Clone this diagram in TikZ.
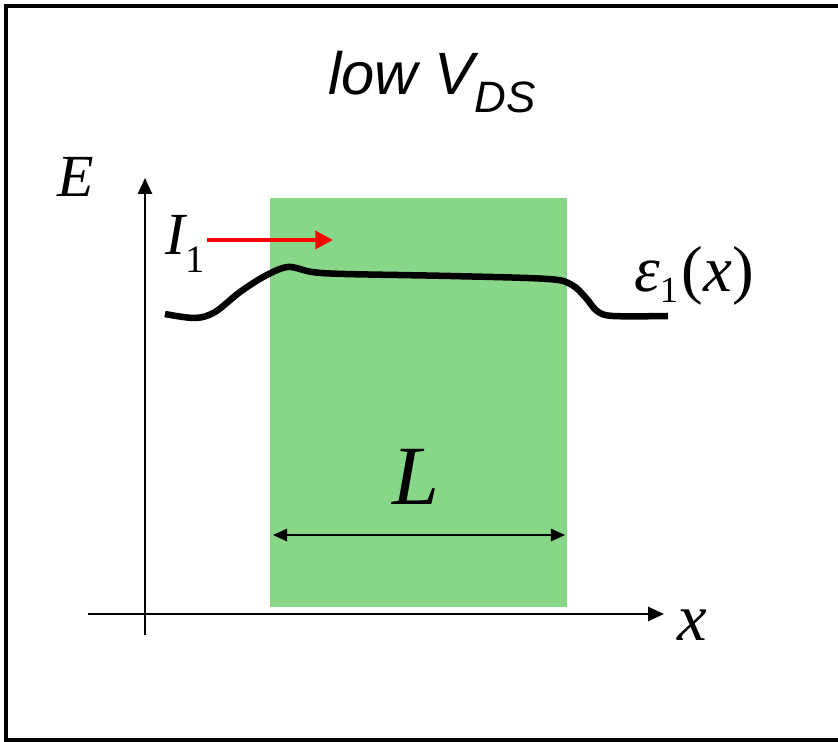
\documentclass[tikz,border=0pt]{standalone}
\usepackage{fontspec}
\newfontfamily\timesf{Liberation Serif}
\newfontfamily\arialf{Liberation Sans}
\usetikzlibrary{arrows.meta}
\definecolor{chan}{RGB}{136,214,136}
\begin{document}
\begin{tikzpicture}[x=0.02cm,y=-0.02cm,
  lbl/.style={inner sep=0pt,anchor=base west,font=\timesf},
  axis/.style={line width=1.1pt,-{Triangle[length=9pt,width=8pt]}},
  dim/.style={line width=1.1pt,{Triangle[length=8pt,width=7pt]}-{Triangle[length=8pt,width=7pt]}}]
\useasboundingbox (0,0) rectangle (838,742);
% frame
\draw[line width=2.3pt] (838,6) -- (6,6) -- (6,740.5) -- (838,740.5);
% channel
\fill[chan] (270,198) rectangle (567,607);
% axes
\coordinate (yb) at (145,635);
\coordinate (yt) at (145,178);
\coordinate (xl) at (88,614);
\coordinate (xr) at (664,614);
\draw[axis] (yb) -- (yt);
\draw[axis] (xl) -- (xr);
% curve
\draw[line width=3.7pt,line join=round] plot[smooth,tension=0.55] coordinates
 {(165,314) (195,318) (215,312) (240,292) (265,276) (288,267) (312,272) (345,274) (450,276) (548,279) (572,285) (586,298) (597,311) (613,316) (668,316)};
% red arrow
\coordinate (ra) at (207,240);
\coordinate (rb) at (333,240);
\draw[red,line width=2.8pt,-{Triangle[length=10pt,width=10pt]}] (ra) -- (rb);
% dimension
\coordinate (da) at (273,535);
\coordinate (db) at (565,535);
\draw[dim] (da) -- (db);
% labels
\node[inner sep=0pt,anchor=base west] (title) at (328,95) {\arialf\itshape\fontsize{34}{34}\selectfont low V\raisebox{-10pt}{\fontsize{25}{25}\selectfont DS}};
\node[lbl] (E) at (57,197) {\timesf\itshape\fontsize{34}{34}\selectfont E};
\node[lbl] (I) at (165,255) {\timesf\itshape\fontsize{34}{34}\selectfont I\raisebox{-10pt}{\upshape\fontsize{22}{22}\selectfont 1}};
\node[lbl] (eps) at (634,292) {\timesf\fontsize{37}{37}\selectfont\textit{ε}\raisebox{-6pt}{\fontsize{21}{21}\selectfont 1}\kern2pt(\textit{x})};
\node[lbl] (L) at (392,505) {\timesf\itshape\fontsize{48}{48}\selectfont L};
\node[lbl] (x) at (677,640) {\timesf\itshape\fontsize{38}{38}\selectfont x};
\end{tikzpicture}
\end{document}
